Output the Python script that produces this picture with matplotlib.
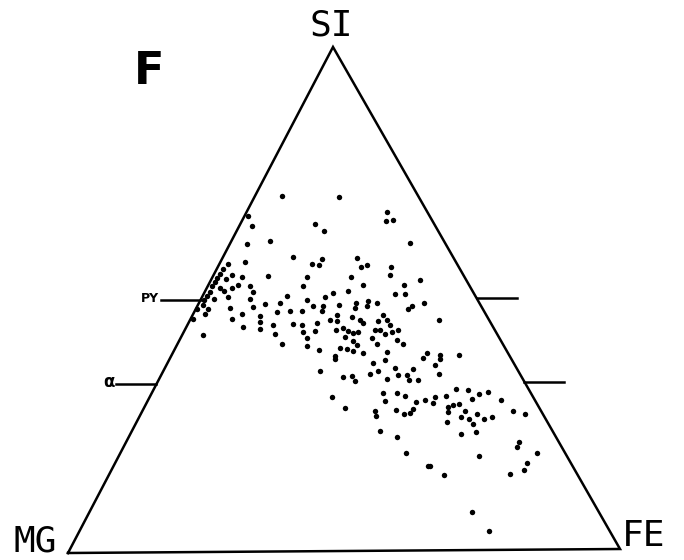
import numpy as np
import matplotlib.pyplot as plt

# grain compositions, atomic % ; MG makes up the rest (100 - SI - FE)
si = [70.6, 66.5, 64.7, 61.7, 61.1, 58.3, 57.5, 57.1, 54.6, 54.6,
      55.0, 54.4, 52.8, 53.0, 52.4, 52.6, 51.6, 50.6, 50.6, 50.2,
      49.2, 49.2, 48.6, 48.4, 49.8, 47.6, 47.6, 47.6, 47.2, 46.8,
      46.2, 45.6, 45.0, 45.2, 44.8, 44.6, 44.2, 43.5, 43.1, 43.1,
      41.1, 42.3, 40.7, 56.2, 55.2, 54.4, 53.6, 52.8, 52.4, 51.6,
      51.8, 50.8, 50.0, 49.0, 48.2, 47.2, 48.2, 46.2, 54.2, 50.2,
      70.2, 67.1, 65.5, 65.5, 64.9, 63.5, 61.1, 58.1, 57.9, 56.7,
      56.9, 56.3, 56.7, 56.2, 54.6, 54.4, 53.6, 52.8, 52.6, 51.0,
      50.8, 51.6, 51.2, 50.4, 49.0, 48.6, 48.0, 49.6, 49.2, 49.2,
      48.2, 48.8, 48.6, 48.6, 47.6, 48.6, 46.8, 45.8, 44.8, 46.4,
      45.8, 45.2, 46.8, 45.6, 43.8, 45.8, 45.2, 43.7, 44.2, 43.7,
      43.3, 43.5, 45.6, 43.8, 43.8, 43.3, 43.7, 42.3, 41.1, 42.9,
      41.7, 40.9, 42.5, 41.7, 40.9, 40.3, 40.1, 39.7, 39.3, 39.9,
      38.7, 39.5, 39.1, 45.6, 38.7, 38.7, 35.7, 38.1, 37.3, 37.9,
      36.3, 36.1, 34.5, 34.7, 33.7, 35.1, 35.7, 34.1, 34.9, 34.9,
      33.9, 33.9, 30.6, 28.4, 31.2, 29.6, 31.2, 30.6, 29.4, 29.8,
      27.8, 26.8, 27.8, 27.0, 27.2, 28.0, 23.8, 22.6, 19.4, 16.7,
      38.1, 37.9, 36.7, 34.9, 31.9, 30.4, 29.2, 30.6, 31.7, 30.0,
      31.0, 31.3, 29.8, 28.4, 28.8, 29.0, 27.4, 27.6, 26.4, 26.0,
      25.0, 27.0, 26.0, 26.4, 27.6, 27.0, 25.4, 23.0, 23.4, 21.4,
      20.4, 19.2, 18.7, 17.1, 15.9, 16.7, 14.9, 15.1, 7.5, 3.8]
fe = [4.8, 0.7, 2.3, 7.0, 3.1, 12.8, 4.4, 1.5, 10.0, 5.3,
      3.3, 17.2, 7.6, 5.4, 4.5, 17.3, 8.7, 4.7, 15.4, 8.9,
      12.1, 14.8, 10.2, 6.1, 19.4, 15.0, 17.4, 19.5, 8.8, 12.3,
      7.5, 12.9, 15.5, 19.0, 20.9, 10.3, 13.5, 21.7, 16.8, 3.8,
      19.0, 23.0, 23.8, 1.1, 1.1, 0.9, 0.9, 0.7, 2.4, 0.9,
      3.4, 0.8, 0.6, 0.9, 2.2, 2.1, 0.2, 0.4, 2.6, 2.3,
      15.4, 25.6, 26.2, 27.4, 13.6, 15.9, 32.6, 24.4, 18.2, 18.2,
      16.8, 26.0, 26.9, 31.5, 32.1, 25.2, 38.0, 28.1, 35.6, 34.7,
      36.6, 25.9, 23.4, 22.4, 41.0, 39.0, 38.5, 30.5, 32.4, 28.6,
      28.8, 25.7, 21.0, 22.8, 23.2, 30.8, 34.6, 35.8, 36.8, 29.1,
      30.9, 31.7, 26.3, 26.8, 27.5, 25.5, 23.4, 23.8, 28.6, 29.8,
      30.9, 31.7, 34.2, 35.5, 34.6, 37.9, 38.8, 34.8, 36.3, 36.8,
      39.6, 41.1, 29.8, 31.6, 32.7, 29.9, 31.3, 32.6, 34.6, 26.3,
      29.8, 38.8, 46.3, 45.3, 52.2, 48.8, 28.5, 30.1, 37.3, 39.2,
      41.8, 45.2, 33.2, 34.8, 35.8, 37.8, 39.0, 41.4, 43.0, 44.6,
      45.5, 47.1, 33.2, 36.6, 42.1, 43.2, 44.6, 46.4, 48.9, 50.4,
      42.3, 42.9, 46.1, 47.9, 48.9, 49.1, 45.1, 48.7, 51.9, 57.2,
      46.0, 49.2, 48.9, 50.4, 54.9, 51.9, 52.1, 53.8, 57.2, 58.8,
      59.6, 61.0, 64.1, 55.2, 55.9, 56.9, 55.7, 58.7, 58.5, 60.2,
      61.4, 61.1, 62.9, 64.1, 67.4, 69.8, 56.5, 60.1, 62.7, 71.4,
      71.5, 75.7, 65.5, 75.0, 75.0, 57.6, 61.0, 72.8, 69.6, 74.5]

# SI levels of pyroxene and olivine
ref_si = [50.0, 100 / 3]
ref_names = ['PY', 'α']
ref_sizes = [9, 12]

# page positions of the MG, FE and SI corners
mg_xy = np.array([68.0, 553.0])
fe_xy = np.array([620.0, 549.0])
si_xy = np.array([333.0, 47.0])


def tern(s, f):
    s = np.asarray(s, dtype=float) / 100
    f = np.asarray(f, dtype=float) / 100
    x = mg_xy[0] + f * (fe_xy[0] - mg_xy[0]) + s * (si_xy[0] - mg_xy[0])
    y = mg_xy[1] + f * (fe_xy[1] - mg_xy[1]) + s * (si_xy[1] - mg_xy[1])
    return x, y


fig = plt.figure(figsize=(6.84, 5.6), dpi=100)
ax = fig.add_axes([0, 0, 1, 1])
ax.set_xlim(0, 684)
ax.set_ylim(560, 0)
ax.axis('off')

# triangle frame
cx, cy = tern([0, 0, 100, 0], [0, 100, 0, 0])
ax.plot(cx, cy, 'k-', lw=1.8, solid_joinstyle='miter')

# tick lines for the mineral SI levels, on both sides
for s, name, fs in zip(ref_si, ref_names, ref_sizes):
    lx, ly = tern(s, 0)
    rx, ry = tern(s, 100 - s)
    ax.plot([lx - 40, lx], [ly, ly], 'k-', lw=1.8)
    ax.plot([rx, rx + 40], [ry, ry], 'k-', lw=1.8)
    ax.text(lx - 42, ly - 2, name, ha='right', va='center',
            fontsize=fs, fontweight='bold', family='DejaVu Sans')

x, y = tern(si, fe)
ax.plot(x, y, 'o', color='k', ms=3.9, mew=0)

corner_font = dict(family='DejaVu Sans Mono', fontsize=26)
ax.text(331, 26, 'SI', ha='center', va='center', **corner_font)
ax.text(35, 541, 'MG', ha='center', va='center', **corner_font)
ax.text(644, 536, 'FE', ha='center', va='center', **corner_font)
ax.text(149, 71, 'F', ha='center', va='center', fontsize=32,
        fontweight='bold', family='DejaVu Sans')

fig.savefig('out.png', dpi=100)
